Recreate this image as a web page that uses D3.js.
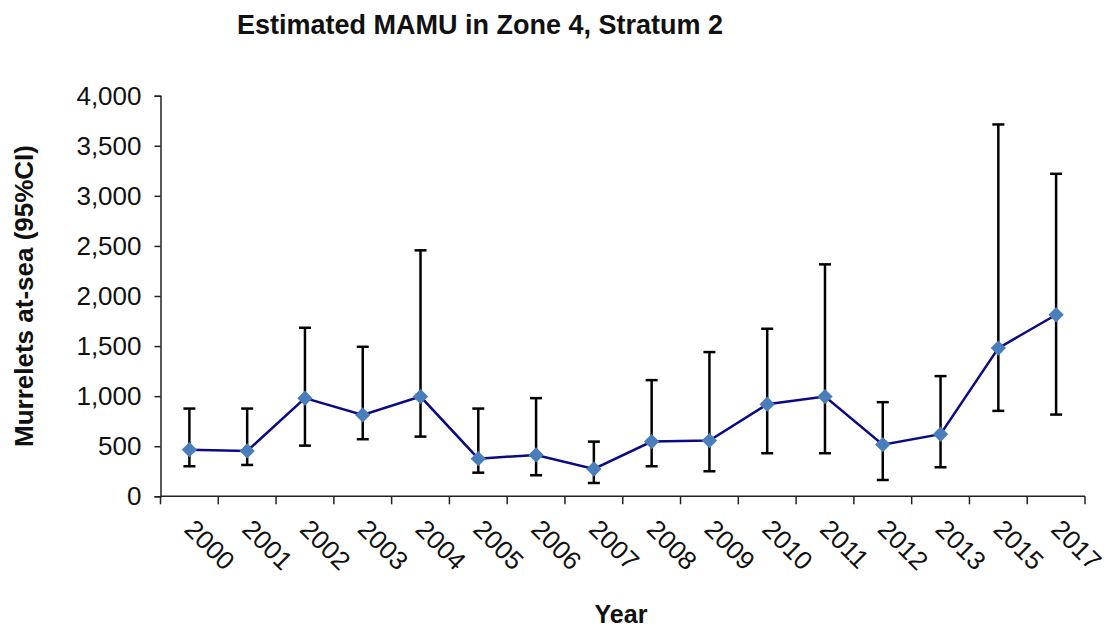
<!DOCTYPE html>
<html>
<head>
<meta charset="utf-8">
<script src="https://cdn.jsdelivr.net/npm/d3@7"></script>
<style>
  body { margin: 0; background: #fff; }
  text { font-family: Arial, "Liberation Sans", sans-serif; fill: #111; }
</style>
</head>
<body>
<svg id="chart" width="1107" height="628"></svg>
<script>
var years = ["2000", "2001", "2002", "2003", "2004", "2005", "2006", "2007",
  "2008", "2009", "2010", "2011", "2012", "2013", "2015", "2017"];
var estimate = [466, 453, 980, 813, 996, 376, 413, 273, 546, 556, 920, 996, 516, 620, 1480, 1813];
var lower = [300, 313, 506, 570, 596, 236, 210, 133, 300, 250, 430, 430, 163, 290, 853, 816];
var upper = [876, 876, 1683, 1493, 2456, 876, 980, 546, 1160, 1440, 1673, 2316, 940, 1200, 3713, 3220];
var yTicks = [0, 500, 1000, 1500, 2000, 2500, 3000, 3500, 4000];

var svg = d3.select("#chart");

var x = d3.scaleBand().domain(years).range([160.5, 1085]).padding(0);
var y = d3.scaleLinear().domain([0, 4000]).range([496.3, 95.7]);

var points = years.map(function (yr, i) {
  return { year: yr, est: estimate[i], lo: lower[i], hi: upper[i] };
});
function cx(p) { return x(p.year) + x.bandwidth() / 2; }

// title
svg.append("text")
  .attr("x", 480).attr("y", 34)
  .attr("text-anchor", "middle")
  .style("font-size", "27px").style("font-weight", "bold")
  .text("Estimated MAMU in Zone 4, Stratum 2");

// y axis
var yAxis = svg.append("g")
  .attr("transform", "translate(160.5,0)")
  .call(d3.axisLeft(y).tickValues(yTicks).tickFormat(d3.format(",")).tickSizeOuter(0).tickSize(6).tickPadding(13));
yAxis.select(".domain").attr("stroke", "#222").attr("stroke-width", 1.5);
yAxis.selectAll(".tick line").attr("stroke", "#222").attr("stroke-width", 1.5);
yAxis.selectAll(".tick text")
  .style("font-size", "26px")
  .style("font-family", "Arial, 'Liberation Sans', sans-serif")
  .attr("fill", "#111");

svg.append("text")
  .attr("transform", "translate(33," + ((y(0) + y(4000)) / 2) + ") rotate(-90)")
  .attr("text-anchor", "middle")
  .style("font-size", "26px").style("font-weight", "bold")
  .text("Murrelets at-sea (95%CI)");

// x axis: domain line plus ticks on band edges
var xg = svg.append("g");
var edges = years.map(function (yr) { return x(yr); }).concat([x.range()[1]]);
xg.append("line")
  .attr("x1", x.range()[0]).attr("x2", x.range()[1])
  .attr("y1", y(0)).attr("y2", y(0))
  .attr("stroke", "#222").attr("stroke-width", 1.5);
xg.selectAll(".xtick")
  .data(edges)
  .enter()
  .append("line")
  .classed("xtick", true)
  .attr("x1", function (d) { return d; }).attr("x2", function (d) { return d; })
  .attr("y1", y(0)).attr("y2", y(0) + 8)
  .attr("stroke", "#222").attr("stroke-width", 1.5);
xg.selectAll(".xlabel")
  .data(years)
  .enter()
  .append("text")
  .classed("xlabel", true)
  .attr("transform", function (d) {
    return "translate(" + (x(d) + x.bandwidth() / 2) + "," + (y(0) + 28) + ") rotate(45)";
  })
  .attr("dy", "0.35em")
  .style("font-size", "26px")
  .text(function (d) { return d; });

svg.append("text")
  .attr("x", 621).attr("y", 623)
  .attr("text-anchor", "middle")
  .style("font-size", "25px").style("font-weight", "bold")
  .text("Year");

// error bars
var err = svg.append("g").attr("stroke", "#000").attr("stroke-width", 2.5);
err.selectAll(".bar")
  .data(points)
  .enter()
  .append("line")
  .attr("x1", cx).attr("x2", cx)
  .attr("y1", function (p) { return y(p.lo); })
  .attr("y2", function (p) { return y(p.hi); });
["lo", "hi"].forEach(function (k) {
  err.selectAll(".cap-" + k)
    .data(points)
    .enter()
    .append("line")
    .attr("x1", function (p) { return cx(p) - 6; })
    .attr("x2", function (p) { return cx(p) + 6; })
    .attr("y1", function (p) { return y(p[k]); })
    .attr("y2", function (p) { return y(p[k]); });
});

// line
var line = d3.line()
  .x(cx)
  .y(function (p) { return y(p.est); });
svg.append("path")
  .datum(points)
  .attr("d", line)
  .attr("fill", "none")
  .attr("stroke", "#0a0a86")
  .attr("stroke-width", 2.5);

// diamond markers
var diamond = d3.symbol().type(d3.symbolDiamond2).size(150);
svg.selectAll(".dot")
  .data(points)
  .enter()
  .append("path")
  .classed("dot", true)
  .attr("d", diamond)
  .attr("transform", function (p) { return "translate(" + cx(p) + "," + y(p.est) + ")"; })
  .attr("fill", "#4a7ebb");
</script>
</body>
</html>
